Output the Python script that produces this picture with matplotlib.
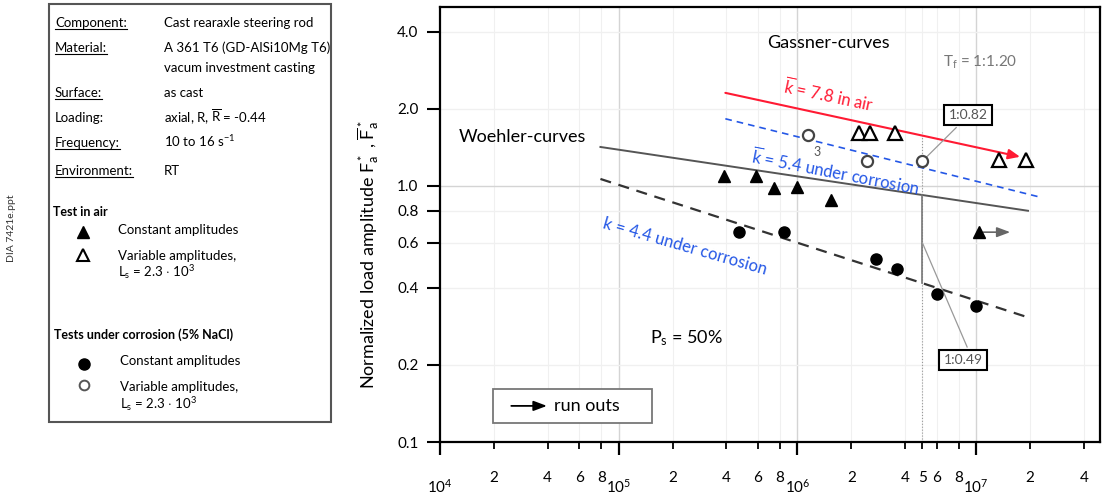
import numpy as np
import matplotlib
matplotlib.use("Agg")
import matplotlib.pyplot as plt
from matplotlib.patches import Rectangle

plt.rcParams['font.family'] = ['Lato', 'DejaVu Sans']
plt.rcParams['mathtext.fontset'] = 'custom'
plt.rcParams['mathtext.rm'] = 'Lato'
plt.rcParams['mathtext.it'] = 'Lato:italic'
plt.rcParams['mathtext.bf'] = 'Lato:bold'

# ---- data ----
# tests in air, constant amplitudes (solid triangles)
air_const_N = [3.9e5, 5.9e5, 7.4e5, 1.0e6, 1.55e6]
air_const_F = [1.09, 1.09, 0.98, 0.99, 0.88]
# run out
runout_N = [1.04e7]
runout_F = [0.66]
runout_end_N = 1.55e7
# tests in air, variable amplitudes (open triangles)
air_var_N = [2.2e6, 2.55e6, 3.5e6, 1.34e7, 1.9e7]
air_var_F = [1.61, 1.61, 1.61, 1.26, 1.26]
# corrosion, constant amplitudes (solid circles)
cor_const_N = [4.7e5, 8.4e5, 2.75e6, 3.6e6, 6.0e6, 1.0e7]
cor_const_F = [0.66, 0.66, 0.52, 0.475, 0.38, 0.34]
# corrosion, variable amplitudes (open circles)
cor_var_N = [1.15e6, 2.45e6, 5.0e6]
cor_var_F = [1.58, 1.25, 1.25]

# fitted curves (end points)
woehler_air_N = [7.9e4, 1.95e7]
woehler_air_F = [1.42, 0.80]
woehler_cor_N = [7.9e4, 2.0e7]
woehler_cor_F = [1.065, 0.305]
gassner_air_N = [3.95e5, 1.76e7]
gassner_air_F = [2.31, 1.30]
gassner_cor_N = [3.95e5, 2.27e7]
gassner_cor_F = [1.83, 0.905]
N_ref = 5e6

ytick_vals = [0.1, 0.2, 0.4, 0.6, 0.8, 1.0, 2.0, 4.0]
ytick_labels = ['0.1', '0.2', '0.4', '0.6', '0.8', '1.0', '2.0', '4.0']
xmajor_vals = [1e4, 1e5, 1e6, 1e7]
xmajor_labels = ['$10^{4}$', '$10^{5}$', '$10^{6}$', '$10^{7}$']
xminor_vals = [2e4, 4e4, 6e4, 8e4, 2e5, 4e5, 6e5, 8e5,
               2e6, 4e6, 5e6, 6e6, 8e6, 2e7, 4e7]
xminor_labels = ['2', '4', '6', '8', '2', '4', '6', '8',
                 '2', '4', '5', '6', '8', '2', '4']

RED = '#ff1a33'
BLUE = '#2457e6'
GREY = '#555555'


def logline(N, F, n):
    return 10 ** np.interp(np.log10(n), np.log10(N), np.log10(F))


W, H = 1103, 500
fig = plt.figure(figsize=(W / 100, H / 100), dpi=100)

# background axes in pixel coordinates for the left info panel
bg = fig.add_axes([0, 0, 1, 1])
bg.set_xlim(0, W)
bg.set_ylim(H, 0)
bg.axis('off')

ax = fig.add_axes([440 / W, 1 - 442 / H, 660 / W, 435 / H])
ax.set_xscale('log')
ax.set_yscale('log')
ax.set_xlim(1e4, 4.93e7)
ax.set_ylim(0.1, 5.0)

# grid
for x in xmajor_vals[1:]:
    ax.axvline(x, color='#d4d4d4', lw=1.0, zorder=0)
for x in xminor_vals:
    ax.axvline(x, color='#f0f0f0', lw=0.8, zorder=0)
for y in ytick_vals:
    ax.axhline(y, color='#d4d4d4' if y == 1.0 else '#f0f0f0', lw=1.0, zorder=0)

# curves
ax.plot(woehler_air_N, woehler_air_F, color=GREY, lw=1.4, zorder=2)
ax.plot(woehler_cor_N, woehler_cor_F, color='#333333', lw=1.6, ls=(0, (5, 3.5)), zorder=2)
ax.plot(gassner_cor_N, gassner_cor_F, color=BLUE, lw=1.2, ls=(0, (4, 3)), zorder=2)
ax.annotate('', xy=(gassner_air_N[1], gassner_air_F[1]),
            xytext=(gassner_air_N[0], gassner_air_F[0]),
            arrowprops=dict(arrowstyle='-|>,head_length=0.7,head_width=0.3',
                            color=RED, lw=1.5, shrinkA=0, shrinkB=0), zorder=2)

# reference lines at N_ref
f_top = logline(woehler_air_N, woehler_air_F, N_ref)
f_bot = logline(woehler_cor_N, woehler_cor_F, N_ref)
ax.plot([N_ref, N_ref], [0.1, 1.62], color='#999999', lw=0.8, ls=':', zorder=1)
ax.plot([N_ref, N_ref], [f_bot, f_top], color='#777777', lw=1.2, zorder=2)

# points
ax.plot(air_const_N, air_const_F, '^', color='black', ms=9, zorder=4)
ax.plot(runout_N, runout_F, '^', color='black', ms=9, zorder=4)
for n, f in zip(runout_N, runout_F):
    ax.annotate('', xy=(runout_end_N, f), xytext=(n, f),
                arrowprops=dict(arrowstyle='-|>,head_length=0.8,head_width=0.3',
                                color='#666666', lw=1.2, shrinkA=3, shrinkB=0), zorder=3)
ax.plot(air_var_N, air_var_F, '^', mfc='white', mec='black', mew=1.6, ms=10, zorder=4)
ax.plot(cor_const_N, cor_const_F, 'o', color='black', ms=8, zorder=4)
ax.plot(cor_var_N, cor_var_F, 'o', mfc='white', mec='#444444', mew=1.6, ms=8, zorder=4)
ax.text(1.28e6, 1.36, '3', color='#555555', fontsize=9, ha='center', va='center')

# annotations
ax.text(2.9e4, 1.55, 'Woehler-curves', fontsize=13, ha='center', va='center')
ax.text(1.49e6, 3.62, 'Gassner-curves', fontsize=13, ha='center', va='center')
ax.text(1.05e7, 3.05, r'T$_\mathrm{f}$ = 1:1.20', fontsize=11, color='#777777',
        ha='center', va='center')
ax.text(1.49e6, 2.27, r'$\overline{\mathrm{k}}$ = 7.8 in air', fontsize=12, color=RED,
        ha='center', va='center', rotation=-12)
ax.text(1.63e6, 1.13, r'$\overline{\mathrm{k}}$ = 5.4 under corrosion', fontsize=12, color=BLUE,
        ha='center', va='center', rotation=-11)
ax.text(2.34e5, 0.578, 'k = 4.4 under corrosion', fontsize=12, color=BLUE,
        ha='center', va='center', rotation=-16)
ax.text(2.4e5, 0.255, r'P$_\mathrm{s}$ = 50%', fontsize=13, ha='center', va='center')

box = dict(boxstyle='square,pad=0.3', fc='white', ec='black', lw=1.5)
ax.plot([7.73e6, N_ref], [1.69, cor_var_F[2]], color='#999999', lw=0.9, zorder=3)
ax.text(9.0e6, 1.89, '1:0.82', fontsize=10, color='#555555', ha='center', va='center',
        bbox=box, zorder=5)
ax.plot([8.9e6, N_ref], [0.235, 0.60], color='#999999', lw=0.9, zorder=3)
ax.text(8.45e6, 0.209, '1:0.49', fontsize=10, color='#555555', ha='center', va='center',
        bbox=box, zorder=5)

# run outs box
ax.add_patch(Rectangle((0.080, 0.044), 0.241, 0.078, transform=ax.transAxes,
                       fc='white', ec='#777777', lw=1.3, zorder=5))
ax.annotate('', xy=(0.162, 0.083), xytext=(0.108, 0.083), xycoords='axes fraction',
            arrowprops=dict(arrowstyle='-|>,head_length=0.8,head_width=0.3',
                            color='black', lw=1.3, shrinkA=0, shrinkB=0), zorder=6)
ax.text(0.172, 0.083, 'run outs', transform=ax.transAxes, fontsize=13,
        ha='left', va='center', zorder=6)

# axes styling
for s in ax.spines.values():
    s.set_linewidth(1.6)
ax.yaxis.set_major_locator(matplotlib.ticker.FixedLocator(ytick_vals))
ax.yaxis.set_major_formatter(matplotlib.ticker.FixedFormatter(ytick_labels))
ax.yaxis.set_minor_locator(matplotlib.ticker.NullLocator())
ax.xaxis.set_major_locator(matplotlib.ticker.FixedLocator(xmajor_vals))
ax.xaxis.set_major_formatter(matplotlib.ticker.FixedFormatter(xmajor_labels))
ax.xaxis.set_minor_locator(matplotlib.ticker.FixedLocator(xminor_vals))
ax.xaxis.set_minor_formatter(matplotlib.ticker.FixedFormatter(xminor_labels))
ax.tick_params(axis='y', which='major', length=9.5, width=1.5, pad=6, labelsize=11)
ax.tick_params(axis='x', which='major', length=9.5, width=1.6, pad=16, labelsize=11)
ax.tick_params(axis='x', which='minor', length=5, width=1.3, pad=16, labelsize=11)
ax.set_ylabel(r'Normalized load amplitude F$_\mathrm{a}^*$ , $\overline{\mathrm{F}}_\mathrm{a}^*$',
              fontsize=13)
ax.yaxis.set_label_coords(-0.089, 0.43)

# ---- left info panel ----
bg.add_patch(Rectangle((49, 4), 282, 418, fc='white', ec='#555555', lw=1.5))
fig.text(12 / W, 1 - 228 / H, 'DIA 7421e.ppt', rotation=90, fontsize=7.5,
         color='#333333', ha='center', va='center')

fs = 9.5
rows = [
    ('Component:', True, 27, ['Cast rearaxle steering rod']),
    ('Material:', True, 52, ['A 361 T6 (GD-AlSi10Mg T6)', 'vacum investment casting']),
    ('Surface:', True, 97, ['as cast']),
    ('Loading:', False, 122, [r'axial, R, $\overline{\mathrm{R}}$ = -0.44']),
    ('Frequency:', True, 147, [r'10 to 16 s$^{\mathrm{-1}}$']),
    ('Environment:', True, 175, ['RT']),
]
under = []
for lab, ul, y, vals in rows:
    t = bg.text(55, y, lab, fontsize=fs, ha='left', va='baseline')
    if ul:
        under.append(t)
    for i, v in enumerate(vals):
        bg.text(164, y + 20 * i, v, fontsize=fs, ha='left', va='baseline')

bg.text(53, 216, 'Test in air', fontsize=9, fontweight='bold', ha='left', va='baseline')
bg.plot([83], [232], '^', color='black', ms=8)
bg.text(118, 234, 'Constant amplitudes', fontsize=fs, ha='left', va='baseline')
bg.plot([83], [255], '^', mfc='white', mec='black', mew=1.5, ms=9)
bg.text(118, 260, 'Variable amplitudes,', fontsize=fs, ha='left', va='baseline')
bg.text(118, 277, r'L$_\mathrm{s}$ = 2.3 $\cdot$ 10$^\mathrm{3}$', fontsize=fs,
        ha='left', va='baseline')

bg.text(54, 339, 'Tests under corrosion (5% NaCl)', fontsize=9, fontweight='bold',
        ha='left', va='baseline')
bg.plot([84], [364], 'o', color='black', ms=8)
bg.text(120, 365, 'Constant amplitudes', fontsize=fs, ha='left', va='baseline')
bg.plot([84], [385], 'o', mfc='white', mec='#555555', mew=1.4, ms=7)
bg.text(120, 391, 'Variable amplitudes,', fontsize=fs, ha='left', va='baseline')
bg.text(120, 409, r'L$_\mathrm{s}$ = 2.3 $\cdot$ 10$^\mathrm{3}$', fontsize=fs,
        ha='left', va='baseline')

# underline labels just below the baseline
fig.canvas.draw()
r = fig.canvas.get_renderer()
inv = bg.transData.inverted()
for t in under:
    bb = t.get_window_extent(renderer=r)
    x0, _ = inv.transform([bb.x0, bb.y0])
    x1, _ = inv.transform([bb.x1, bb.y0])
    yb = t.get_position()[1] + 2
    bg.plot([x0, x1], [yb, yb], color='black', lw=0.8)

fig.savefig('out.png', dpi=100)
